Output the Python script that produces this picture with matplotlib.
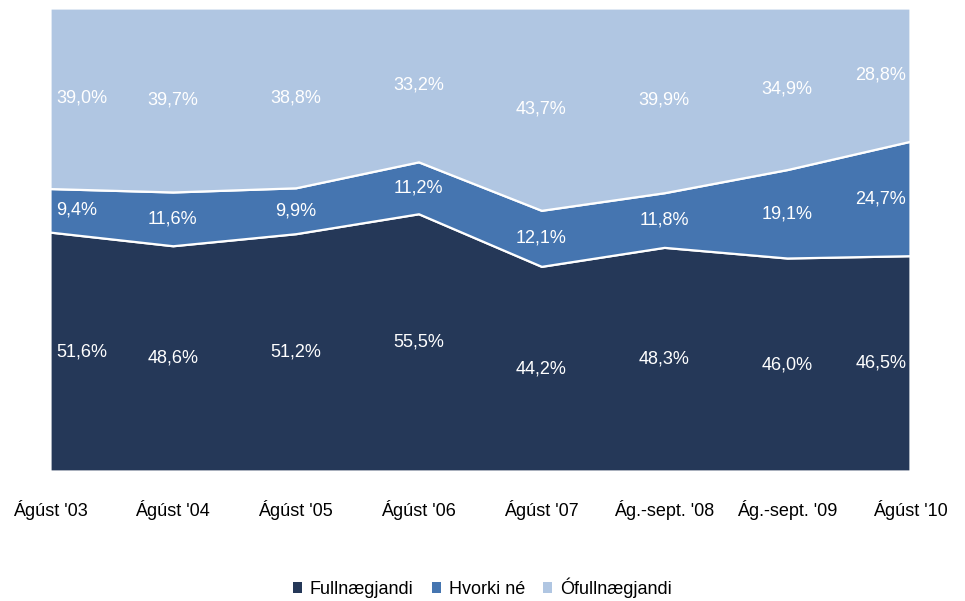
import matplotlib
matplotlib.use("Agg")
import matplotlib.pyplot as plt
import numpy as np
from matplotlib.patches import Patch

plt.rcParams['font.family'] = ['Liberation Sans Narrow', 'Liberation Sans', 'DejaVu Sans']

periods = ["Ágúst '03", "Ágúst '04", "Ágúst '05", "Ágúst '06", "Ágúst '07",
           "Ág.-sept. '08", "Ág.-sept. '09", "Ágúst '10"]
fullnaegjandi = [51.6, 48.6, 51.2, 55.5, 44.2, 48.3, 46.0, 46.5]
hvorki = [9.4, 11.6, 9.9, 11.2, 12.1, 11.8, 19.1, 24.7]
ofullnaegjandi = [39.0, 39.7, 38.8, 33.2, 43.7, 39.9, 34.9, 28.8]

series = [fullnaegjandi, hvorki, ofullnaegjandi]
names = ["Fullnægjandi", "Hvorki né", "Ófullnægjandi"]
colors = ["#253858", "#4575B0", "#B0C6E2"]

vals = np.array(series, dtype=float)
pct = vals / vals.sum(axis=0) * 100
x = np.arange(len(periods))

fig = plt.figure(figsize=(9.65, 6.01), dpi=100)
ax = fig.add_axes([0.0518, 0.2163, 0.8912, 0.7704])

ax.stackplot(x, pct, colors=colors, edgecolor="white", linewidth=1.6)
ax.set_xlim(0, len(periods) - 1)
ax.set_ylim(0, 100)

# labels in the middle of each band
bottom = np.zeros(len(x))
for row, raw in zip(pct, vals):
    mid = bottom + row / 2
    for i in x:
        txt = f"{raw[i]:.1f}%".replace(".", ",")
        if i == 0:
            ax.text(i + 0.05, mid[i], txt, ha="left", va="center", color="white", fontsize=13)
        elif i == len(x) - 1:
            ax.text(i - 0.03, mid[i], txt, ha="right", va="center", color="white", fontsize=13)
        else:
            ax.text(i, mid[i], txt, ha="center", va="center", color="white", fontsize=13)
    bottom = bottom + row

ax.set_xticks(x)
ax.set_xticklabels(periods, fontsize=13)
ax.tick_params(axis="x", length=0, pad=21)
ax.set_yticks([])
for s in ax.spines.values():
    s.set_visible(False)

handles = [Patch(facecolor=c, edgecolor="none") for c in colors]
fig.legend(handles, names, loc="center", bbox_to_anchor=(0.5, 0.022), ncol=3,
           frameon=False, fontsize=13, handlelength=0.5, handleheight=0.5,
           handletextpad=0.45, columnspacing=1.0)

fig.savefig("out.png", dpi=100)
